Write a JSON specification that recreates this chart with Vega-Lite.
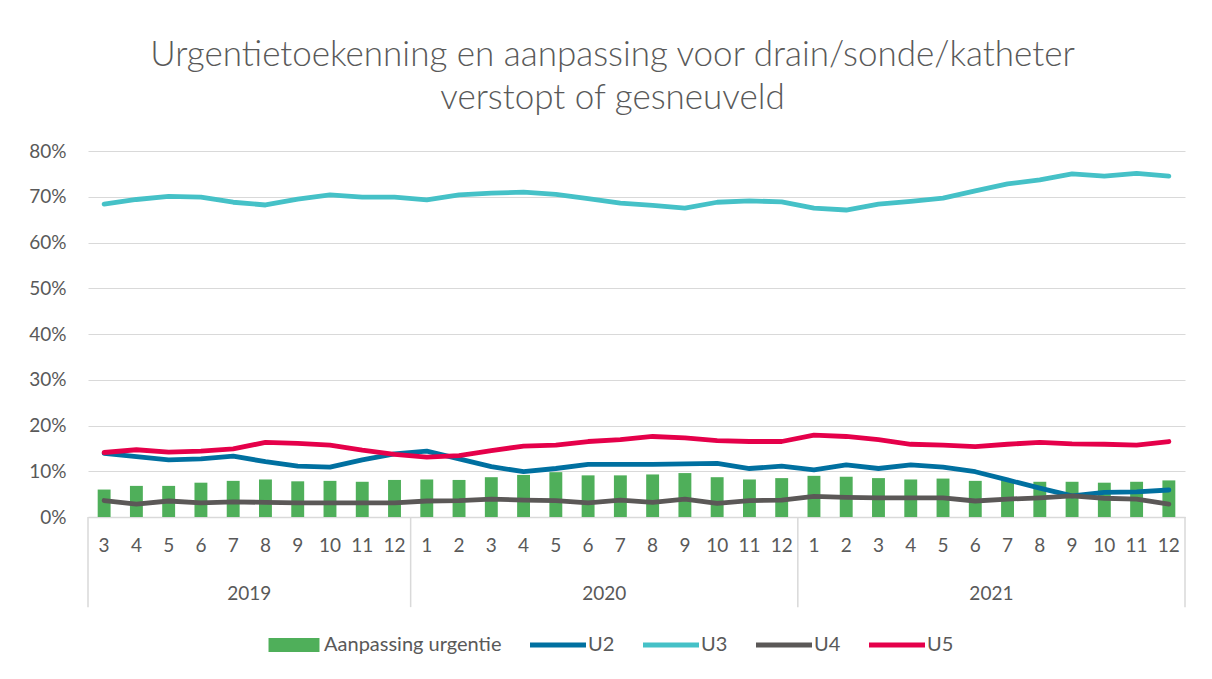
{
 "$schema": "https://vega.github.io/schema/vega-lite/v6.json",
 "width": 1097, "height": 366,
 "autosize": {"type": "none"},
 "padding": {"left": 88, "top": 151, "right": 27, "bottom": 162},
 "background": "white",
 "title": {"text": ["Urgentietoekenning en aanpassing voor drain/sonde/katheter", "verstopt of gesneuveld"], "fontSize": 35, "font": "Lato", "fontWeight": 300, "color": "#595959", "anchor": "middle", "dx": -24, "offset": 26, "lineHeight": 43},
 "config": {"font": "Lato", "view": {"stroke": null}},
 "datasets": {
  "main": [
   {"period": "2019-03", "bar": 0.060, "U2": 0.139, "U3": 0.684, "U4": 0.036, "U5": 0.141},
   {"period": "2019-04", "bar": 0.068, "U2": 0.132, "U3": 0.694, "U4": 0.028, "U5": 0.147},
   {"period": "2019-05", "bar": 0.068, "U2": 0.125, "U3": 0.701, "U4": 0.035, "U5": 0.142},
   {"period": "2019-06", "bar": 0.075, "U2": 0.127, "U3": 0.699, "U4": 0.031, "U5": 0.144},
   {"period": "2019-07", "bar": 0.079, "U2": 0.133, "U3": 0.688, "U4": 0.033, "U5": 0.149},
   {"period": "2019-08", "bar": 0.082, "U2": 0.121, "U3": 0.682, "U4": 0.032, "U5": 0.163},
   {"period": "2019-09", "bar": 0.078, "U2": 0.111, "U3": 0.695, "U4": 0.031, "U5": 0.161},
   {"period": "2019-10", "bar": 0.079, "U2": 0.109, "U3": 0.704, "U4": 0.031, "U5": 0.157},
   {"period": "2019-11", "bar": 0.077, "U2": 0.125, "U3": 0.699, "U4": 0.031, "U5": 0.146},
   {"period": "2019-12", "bar": 0.081, "U2": 0.138, "U3": 0.699, "U4": 0.031, "U5": 0.137},
   {"period": "2020-01", "bar": 0.082, "U2": 0.144, "U3": 0.693, "U4": 0.035, "U5": 0.131},
   {"period": "2020-02", "bar": 0.081, "U2": 0.127, "U3": 0.704, "U4": 0.036, "U5": 0.134},
   {"period": "2020-03", "bar": 0.087, "U2": 0.110, "U3": 0.708, "U4": 0.039, "U5": 0.145},
   {"period": "2020-04", "bar": 0.092, "U2": 0.099, "U3": 0.710, "U4": 0.037, "U5": 0.155},
   {"period": "2020-05", "bar": 0.098, "U2": 0.106, "U3": 0.705, "U4": 0.036, "U5": 0.157},
   {"period": "2020-06", "bar": 0.091, "U2": 0.115, "U3": 0.696, "U4": 0.031, "U5": 0.165},
   {"period": "2020-07", "bar": 0.091, "U2": 0.115, "U3": 0.686, "U4": 0.037, "U5": 0.169},
   {"period": "2020-08", "bar": 0.093, "U2": 0.115, "U3": 0.681, "U4": 0.032, "U5": 0.176},
   {"period": "2020-09", "bar": 0.096, "U2": 0.116, "U3": 0.675, "U4": 0.039, "U5": 0.173},
   {"period": "2020-10", "bar": 0.087, "U2": 0.117, "U3": 0.688, "U4": 0.030, "U5": 0.167},
   {"period": "2020-11", "bar": 0.082, "U2": 0.106, "U3": 0.691, "U4": 0.036, "U5": 0.165},
   {"period": "2020-12", "bar": 0.085, "U2": 0.111, "U3": 0.689, "U4": 0.037, "U5": 0.165},
   {"period": "2021-01", "bar": 0.090, "U2": 0.103, "U3": 0.675, "U4": 0.045, "U5": 0.179},
   {"period": "2021-02", "bar": 0.088, "U2": 0.114, "U3": 0.671, "U4": 0.043, "U5": 0.176},
   {"period": "2021-03", "bar": 0.085, "U2": 0.106, "U3": 0.684, "U4": 0.042, "U5": 0.169},
   {"period": "2021-04", "bar": 0.082, "U2": 0.114, "U3": 0.690, "U4": 0.042, "U5": 0.159},
   {"period": "2021-05", "bar": 0.084, "U2": 0.109, "U3": 0.697, "U4": 0.042, "U5": 0.157},
   {"period": "2021-06", "bar": 0.079, "U2": 0.099, "U3": 0.713, "U4": 0.035, "U5": 0.154},
   {"period": "2021-07", "bar": 0.082, "U2": 0.081, "U3": 0.728, "U4": 0.039, "U5": 0.159},
   {"period": "2021-08", "bar": 0.077, "U2": 0.063, "U3": 0.737, "U4": 0.042, "U5": 0.163},
   {"period": "2021-09", "bar": 0.077, "U2": 0.046, "U3": 0.750, "U4": 0.046, "U5": 0.160},
   {"period": "2021-10", "bar": 0.075, "U2": 0.054, "U3": 0.745, "U4": 0.041, "U5": 0.159},
   {"period": "2021-11", "bar": 0.077, "U2": 0.055, "U3": 0.751, "U4": 0.039, "U5": 0.157},
   {"period": "2021-12", "bar": 0.080, "U2": 0.059, "U3": 0.745, "U4": 0.028, "U5": 0.165}
  ],
  "years": [
   {"period": "2019-07", "year": "2019"},
   {"period": "2020-06", "year": "2020"},
   {"period": "2021-06", "year": "2021"}
  ],
  "sepsLeft": [
   {"period": "2019-03"},
   {"period": "2020-01"},
   {"period": "2021-01"}
  ],
  "sepsRight": [
   {"period": "2021-12"}
  ]
 },
 "layer": [
  {
   "data": {"name": "main"},
   "transform": [{"fold": ["U2", "U3", "U4", "U5"], "as": ["series", "value"]}, {"filter": "false"}],
   "mark": {"type": "point", "filled": true, "opacity": 1},
   "encoding": {
    "x": {"field": "period", "type": "ordinal", "sort": "ascending", "scale": {"paddingInner": 0, "paddingOuter": 0},
          "axis": {"title": null, "labelExpr": "toNumber(split(datum.value,'-')[1])", "labelAngle": 0, "ticks": false, "domainColor": "#D9D9D9", "domainWidth": 1.5, "labelPadding": 19, "labelFontSize": 19, "labelColor": "#595959", "grid": false}},
    "y": {"field": "value", "type": "quantitative", "scale": {"domain": [0, 0.8], "nice": false},
          "axis": {"title": null, "format": ".0%", "values": [0, 0.1, 0.2, 0.3, 0.4, 0.5, 0.6, 0.7, 0.8], "grid": true, "gridColor": "#D9D9D9", "gridWidth": 1.2, "domain": false, "ticks": false, "labelPadding": 22, "labelFontSize": 19, "labelColor": "#595959"}},
    "color": {"field": "series", "type": "nominal",
              "scale": {"domain": ["Aanpassing urgentie", "U2", "U3", "U4", "U5"], "range": ["#4FAF5A", "#0070A0", "#45C1C7", "#5B5857", "#E5004A"]},
              "legend": {"title": null, "orient": "none", "legendX": 178, "legendY": 466, "direction": "horizontal", "symbolSize": 3136, "symbolStrokeWidth": 0, "symbolOpacity": 1, "labelFontSize": 20, "labelColor": "#595959", "labelLimit": 0, "columnPadding": 28, "labelOffset": 2}},
    "shape": {"field": "series", "type": "nominal",
              "scale": {"domain": ["Aanpassing urgentie", "U2", "U3", "U4", "U5"], "range": ["M-0.91,-0.25H0.91V0.25H-0.91Z", "M-1,-0.09H1V0.09H-1Z", "M-1,-0.09H1V0.09H-1Z", "M-1,-0.09H1V0.09H-1Z", "M-1,-0.09H1V0.09H-1Z"]},
              "legend": {"title": null, "orient": "none", "legendX": 178, "legendY": 466, "direction": "horizontal", "symbolSize": 3136, "symbolStrokeWidth": 0, "symbolOpacity": 1, "labelFontSize": 20, "labelColor": "#595959", "labelLimit": 0, "columnPadding": 28, "labelOffset": 2}}
   }
  },
  {
   "data": {"name": "main"},
   "mark": {"type": "bar", "width": {"band": 0.4}},
   "encoding": {
    "x": {"field": "period", "type": "ordinal", "title": null},
    "y": {"field": "bar", "type": "quantitative", "title": null},
    "color": {"datum": "Aanpassing urgentie", "type": "nominal", "scale": {"domain": ["Aanpassing urgentie", "U2", "U3", "U4", "U5"], "range": ["#4FAF5A", "#0070A0", "#45C1C7", "#5B5857", "#E5004A"]}}
   }
  },
  {
   "data": {"name": "main"},
   "transform": [{"fold": ["U2", "U3", "U4", "U5"], "as": ["series", "value"]}],
   "mark": {"type": "line", "strokeWidth": 4.8, "strokeCap": "round", "strokeJoin": "round"},
   "encoding": {
    "x": {"field": "period", "type": "ordinal", "title": null},
    "y": {"field": "value", "type": "quantitative", "title": null},
    "color": {"field": "series", "type": "nominal", "scale": {"domain": ["Aanpassing urgentie", "U2", "U3", "U4", "U5"], "range": ["#4FAF5A", "#0070A0", "#45C1C7", "#5B5857", "#E5004A"]}}
   }
  },
  {
   "data": {"name": "sepsLeft"},
   "mark": {"type": "rule", "color": "#D9D9D9", "strokeWidth": 1.5},
   "encoding": {
    "x": {"field": "period", "type": "ordinal", "bandPosition": 0, "title": null},
    "y": {"datum": 0, "type": "quantitative", "title": null},
    "y2": {"datum": -0.197}
   }
  },
  {
   "data": {"name": "sepsRight"},
   "mark": {"type": "rule", "color": "#D9D9D9", "strokeWidth": 1.5},
   "encoding": {
    "x": {"field": "period", "type": "ordinal", "bandPosition": 1, "title": null},
    "y": {"datum": 0, "type": "quantitative", "title": null},
    "y2": {"datum": -0.197}
   }
  },
  {
   "data": {"name": "years"},
   "mark": {"type": "text", "fontSize": 19, "color": "#595959", "baseline": "middle", "align": "center"},
   "encoding": {
    "x": {"field": "period", "type": "ordinal", "bandPosition": 1, "title": null},
    "y": {"datum": -0.168, "type": "quantitative", "title": null},
    "text": {"field": "year"}
   }
  }
 ]
}
